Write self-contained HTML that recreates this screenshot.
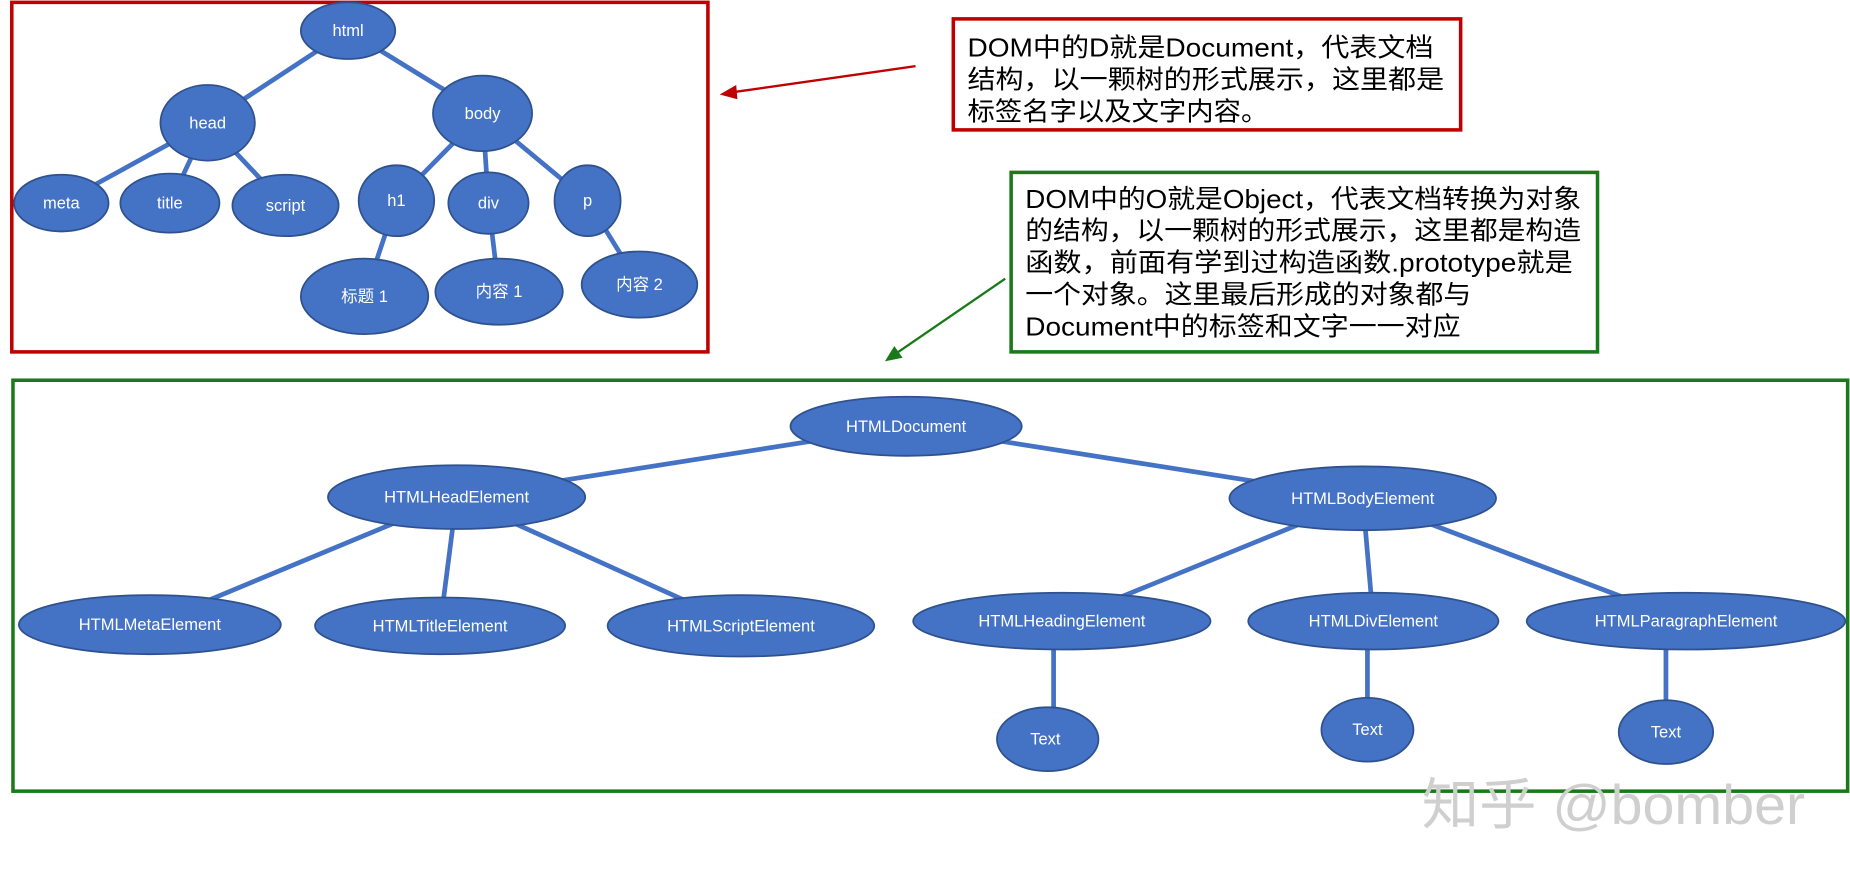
<!DOCTYPE html>
<html><head><meta charset="utf-8"><style>html,body{margin:0;padding:0;background:#fff;overflow:hidden}svg{display:block}
.n{fill:#4472c4;stroke:#2f528f;stroke-width:1.5}
.l{stroke:#4472c4;stroke-width:4}
.t{fill:#fff;font-family:"Liberation Sans","Noto Sans CJK SC",sans-serif;font-size:14px;text-anchor:middle;dominant-baseline:central}
.b{fill:#000;font-family:"Liberation Sans","Noto Sans CJK SC",sans-serif;font-size:22px}
</style></head><body>
<svg width="1850" height="875" viewBox="0 0 1568 741" preserveAspectRatio="none">
<rect x="10" y="2" width="590" height="296" fill="none" stroke="#c00000" stroke-width="3"/>
<g class="l">
<line x1="295" y1="26" x2="176" y2="104"/><line x1="295" y1="26" x2="409" y2="96"/>
<line x1="176" y1="104" x2="52" y2="172"/><line x1="176" y1="104" x2="144" y2="172"/><line x1="176" y1="104" x2="242" y2="174"/>
<line x1="409" y1="96" x2="336" y2="170"/><line x1="409" y1="96" x2="414" y2="172"/><line x1="409" y1="96" x2="498" y2="170"/>
<line x1="336" y1="170" x2="309" y2="251"/><line x1="414" y1="172" x2="423" y2="247"/><line x1="498" y1="170" x2="542" y2="241"/>
</g>
<ellipse class="n" cx="295" cy="26" rx="40" ry="24"/><text class="t" x="295" y="26">html</text>
<ellipse class="n" cx="176" cy="104" rx="40" ry="32"/><text class="t" x="176" y="104">head</text>
<ellipse class="n" cx="409" cy="96" rx="42" ry="32"/><text class="t" x="409" y="96">body</text>
<ellipse class="n" cx="52" cy="172" rx="40" ry="24"/><text class="t" x="52" y="172">meta</text>
<ellipse class="n" cx="144" cy="172" rx="42" ry="25"/><text class="t" x="144" y="172">title</text>
<ellipse class="n" cx="242" cy="174" rx="45" ry="26"/><text class="t" x="242" y="174">script</text>
<ellipse class="n" cx="336" cy="170" rx="32" ry="30"/><text class="t" x="336" y="170">h1</text>
<ellipse class="n" cx="414" cy="172" rx="34" ry="26"/><text class="t" x="414" y="172">div</text>
<ellipse class="n" cx="498" cy="170" rx="28" ry="30"/><text class="t" x="498" y="170">p</text>
<ellipse class="n" cx="309" cy="251" rx="54" ry="32"/><text class="t" x="309" y="251">标题 1</text>
<ellipse class="n" cx="423" cy="247" rx="54" ry="28"/><text class="t" x="423" y="247">内容 1</text>
<ellipse class="n" cx="542" cy="241" rx="49" ry="28"/><text class="t" x="542" y="241">内容 2</text>

<rect x="808" y="16" width="430" height="94" fill="#fff" stroke="#c00000" stroke-width="3"/>
<text class="b" x="820" y="48" textLength="395" lengthAdjust="spacingAndGlyphs">DOM中的D就是Document，代表文档</text>
<text class="b" x="820" y="75" textLength="404" lengthAdjust="spacingAndGlyphs">结构，以一颗树的形式展示，这里都是</text>
<text class="b" x="820" y="102" textLength="255" lengthAdjust="spacingAndGlyphs">标签名字以及文字内容。</text>
<line x1="776" y1="56" x2="622" y2="78" stroke="#c00000" stroke-width="2"/>
<polygon points="610,80 624,72 625,84" fill="#c00000"/>

<rect x="857" y="146" width="497" height="152" fill="#fff" stroke="#1a7a1a" stroke-width="3"/>
<text class="b" x="869" y="176" textLength="471" lengthAdjust="spacingAndGlyphs">DOM中的O就是Object，代表文档转换为对象</text>
<text class="b" x="869" y="203" textLength="471" lengthAdjust="spacingAndGlyphs">的结构，以一颗树的形式展示，这里都是构造</text>
<text class="b" x="869" y="230" textLength="464" lengthAdjust="spacingAndGlyphs">函数，前面有学到过构造函数.prototype就是</text>
<text class="b" x="869" y="257" textLength="378" lengthAdjust="spacingAndGlyphs">一个对象。这里最后形成的对象都与</text>
<text class="b" x="869" y="284" textLength="369" lengthAdjust="spacingAndGlyphs">Document中的标签和文字一一对应</text>
<line x1="852" y1="236" x2="760" y2="299" stroke="#1a7a1a" stroke-width="2"/>
<polygon points="750,306 758,293 765,303" fill="#1a7a1a"/>

<rect x="11" y="322" width="1555" height="348" fill="none" stroke="#1a7a1a" stroke-width="3"/>
<g class="l">
<line x1="768" y1="361" x2="387" y2="421"/><line x1="768" y1="361" x2="1155" y2="422"/>
<line x1="387" y1="421" x2="127" y2="529"/><line x1="387" y1="421" x2="373" y2="530"/><line x1="387" y1="421" x2="628" y2="530"/>
<line x1="1155" y1="422" x2="900" y2="526"/><line x1="1155" y1="422" x2="1164" y2="526"/><line x1="1155" y1="422" x2="1429" y2="526"/>
<line x1="893" y1="526" x2="893" y2="626"/><line x1="1159" y1="526" x2="1159" y2="618"/><line x1="1412" y1="526" x2="1412" y2="620"/>
</g>
<ellipse class="n" cx="768" cy="361" rx="98" ry="25"/><text class="t" x="768" y="361">HTMLDocument</text>
<ellipse class="n" cx="387" cy="421" rx="109" ry="27"/><text class="t" x="387" y="421">HTMLHeadElement</text>
<ellipse class="n" cx="1155" cy="422" rx="113" ry="27"/><text class="t" x="1155" y="422">HTMLBodyElement</text>
<ellipse class="n" cx="127" cy="529" rx="111" ry="25"/><text class="t" x="127" y="529">HTMLMetaElement</text>
<ellipse class="n" cx="373" cy="530" rx="106" ry="24"/><text class="t" x="373" y="530">HTMLTitleElement</text>
<ellipse class="n" cx="628" cy="530" rx="113" ry="26"/><text class="t" x="628" y="530">HTMLScriptElement</text>
<ellipse class="n" cx="900" cy="526" rx="126" ry="24"/><text class="t" x="900" y="526">HTMLHeadingElement</text>
<ellipse class="n" cx="1164" cy="526" rx="106" ry="24"/><text class="t" x="1164" y="526">HTMLDivElement</text>
<ellipse class="n" cx="1429" cy="526" rx="135" ry="24"/><text class="t" x="1429" y="526">HTMLParagraphElement</text>
<ellipse class="n" cx="888" cy="626" rx="43" ry="27"/><text class="t" x="886" y="626">Text</text>
<ellipse class="n" cx="1159" cy="618" rx="39" ry="27"/><text class="t" x="1159" y="618">Text</text>
<ellipse class="n" cx="1412" cy="620" rx="40" ry="27"/><text class="t" x="1412" y="620">Text</text>

<text x="1205" y="698" fill="#cfcfcf" font-family="Liberation Sans,Noto Sans CJK SC,sans-serif" font-size="47" textLength="325" lengthAdjust="spacingAndGlyphs">知乎 @bomber</text>
</svg>
</body></html>
